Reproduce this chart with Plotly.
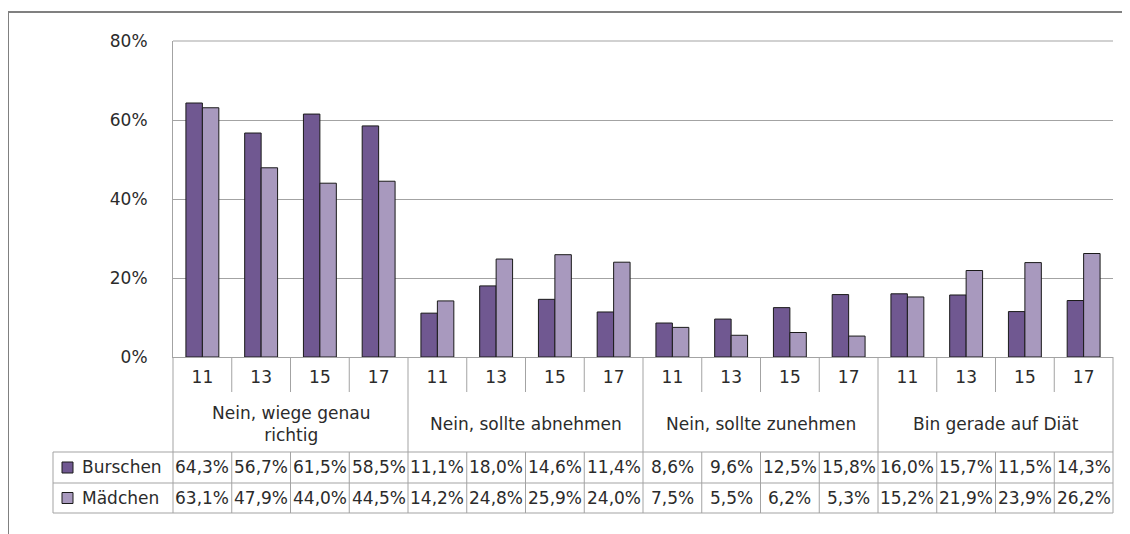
import plotly.graph_objects as go

AGES = [11, 13, 15, 17]
GROUPS = [
    "Nein, wiege genau<br>richtig",
    "Nein, sollte abnehmen",
    "Nein, sollte zunehmen",
    "Bin gerade auf Diät",
]
SERIES = ["Burschen", "Mädchen"]
BURSCHEN = [64.3, 56.7, 61.5, 58.5, 11.1, 18.0, 14.6, 11.4,
            8.6, 9.6, 12.5, 15.8, 16.0, 15.7, 11.5, 14.3]
MAEDCHEN = [63.1, 47.9, 44.0, 44.5, 14.2, 24.8, 25.9, 24.0,
            7.5, 5.5, 6.2, 5.3, 15.2, 21.9, 23.9, 26.2]

COLORS = {"Burschen": "#705891", "Mädchen": "#a899be"}
GRID = "#a3a3a3"
TXT = "#2b2b2b"
FONT = "DejaVu Sans"
FS = 17

# page offset (body margin) and plot area in page pixels
OFF = 8
W, H = 1130 - OFF, 534 - OFF
L, R, T, B = 173, 1113, 41, 357


def px(x):
    return (x - L) / (R - L)


def py(y):
    return (B - y) / (B - T)


n = len(BURSCHEN)
xs = list(range(n))
values = {"Burschen": BURSCHEN, "Mädchen": MAEDCHEN}

fig = go.Figure()

for s in SERIES:
    fig.add_trace(
        go.Bar(
            x=xs,
            y=values[s],
            name=s,
            marker=dict(color=COLORS[s], line=dict(color="#1a1a1a", width=1)),
        )
    )

shapes = []


def line(x0, y0, x1, y1, color=GRID, width=1):
    shapes.append(dict(
        type="line", xref="paper", yref="paper",
        x0=px(x0), y0=py(y0), x1=px(x1), y1=py(y1),
        line=dict(color=color, width=width),
    ))


col_w = (R - L) / n
row_top, row_mid, row_bot = 452, 483, 513
leg_left = 53

# top gridline (80%) is not drawn by the axis at the range edge
line(L, T, R, T)

# column separators
for i in range(n + 1):
    x = L + i * col_w
    if i % len(AGES) == 0:
        line(x, B, x, row_bot)
    else:
        line(x, B, x, 392)
        line(x, row_top, x, row_bot)

for y in (row_top, row_mid, row_bot):
    line(leg_left, y, R, y)
line(leg_left, row_top, leg_left, row_bot)

# outer chart frame
line(8, 12, 8, 540, color="#808080", width=2)
line(8, 12, 1135, 12, color="#808080", width=2)

annotations = []

# group labels
for g, label in enumerate(GROUPS):
    cx = L + (g * len(AGES) + len(AGES) / 2) * col_w
    annotations.append(dict(
        x=px(cx), y=py(424), xref="paper", yref="paper",
        text=label, showarrow=False, xanchor="center", yanchor="middle",
        font=dict(size=FS, color=TXT, family=FONT),
    ))

# data table rows
for r, s in enumerate(SERIES):
    yc = (row_top + row_mid) / 2 if r == 0 else (row_mid + row_bot) / 2
    shapes.append(dict(
        type="rect", xref="paper", yref="paper",
        x0=px(62), x1=px(73), y0=py(yc - 5.5), y1=py(yc + 5.5),
        fillcolor=COLORS[s], line=dict(color="#1a1a1a", width=1),
    ))
    annotations.append(dict(
        x=px(80), y=py(yc), xref="paper", yref="paper",
        text=s, showarrow=False, xanchor="left", yanchor="middle",
        font=dict(size=FS, color=TXT, family=FONT),
    ))
    for i, v in enumerate(values[s]):
        cx = L + (i + 0.5) * col_w
        annotations.append(dict(
            x=px(cx), y=py(yc), xref="paper", yref="paper",
            text=f"{v:.1f}%".replace(".", ","), showarrow=False,
            xanchor="center", yanchor="middle",
            font=dict(size=FS, color=TXT, family=FONT),
        ))

fig.update_layout(
    width=W,
    height=H,
    margin=dict(l=L - OFF, r=W + OFF - R, t=T - OFF, b=H + OFF - B, pad=0),
    plot_bgcolor="white",
    paper_bgcolor="white",
    barmode="group",
    bargap=0.44,
    bargroupgap=0,
    showlegend=False,
    font=dict(family=FONT, color=TXT, size=FS),
    shapes=shapes,
    annotations=annotations,
    xaxis=dict(
        range=[-0.5, n - 0.5],
        tickvals=xs,
        ticktext=[str(a) for a in AGES * len(GROUPS)],
        showgrid=False,
        zeroline=False,
        showline=True,
        linecolor=GRID,
        ticks="",
        ticklabelstandoff=5,
        tickfont=dict(size=FS, color=TXT, family=FONT),
    ),
    yaxis=dict(
        range=[0, 80],
        dtick=20,
        ticksuffix="%",
        showgrid=True,
        gridcolor=GRID,
        zeroline=False,
        showline=True,
        linecolor=GRID,
        ticks="",
        ticklabelstandoff=21,
        tickfont=dict(size=FS, color=TXT, family=FONT),
    ),
)

fig.write_html("out.html")
